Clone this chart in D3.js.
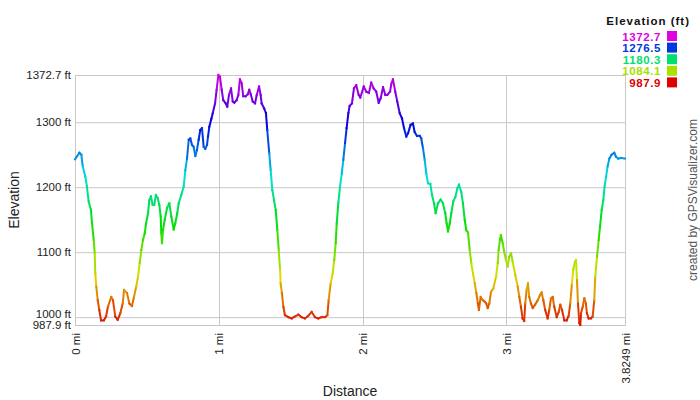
<!DOCTYPE html>
<html>
<head>
<meta charset="utf-8">
<script src="https://cdn.jsdelivr.net/npm/d3@7"></script>
<style>
  body { margin: 0; background: #fff; }
  svg { font-family: Arial, "Liberation Sans", sans-serif; }
</style>
</head>
<body>
<script>
// distance along the track (mi)
const distances = [
  0, 0.030, 0.044, 0.054, 0.072, 0.083, 0.095, 0.111, 0.118, 0.130, 0.137, 0.141, 0.148, 0.158, 0.169, 0.181,
  0.200, 0.216, 0.229, 0.252, 0.264, 0.280, 0.297, 0.315, 0.332, 0.341, 0.362, 0.378, 0.396, 0.410, 0.426, 0.438,
  0.450, 0.461, 0.473, 0.485, 0.494, 0.508, 0.517, 0.528, 0.540, 0.551, 0.563, 0.575, 0.586, 0.596, 0.600, 0.605,
  0.612, 0.624, 0.640, 0.656, 0.670, 0.686, 0.697, 0.711, 0.721, 0.739, 0.756, 0.767, 0.779, 0.791, 0.802, 0.814,
  0.825, 0.837, 0.848, 0.860, 0.871, 0.883, 0.895, 0.906, 0.918, 0.925, 0.934, 0.948, 0.958, 0.974, 0.985, 0.997,
  1.008, 1.020, 1.031, 1.048, 1.059, 1.071, 1.085, 1.097, 1.108, 1.124, 1.136, 1.147, 1.159, 1.170, 1.187, 1.201,
  1.212, 1.222, 1.236, 1.252, 1.264, 1.280, 1.291, 1.298, 1.316, 1.328, 1.337, 1.351, 1.361, 1.372, 1.384, 1.396,
  1.407, 1.417, 1.426, 1.430, 1.439, 1.449, 1.460, 1.483, 1.507, 1.530, 1.553, 1.576, 1.599, 1.622, 1.646, 1.669,
  1.692, 1.716, 1.739, 1.755, 1.764, 1.778, 1.792, 1.803, 1.813, 1.820, 1.831, 1.843, 1.855, 1.866, 1.878, 1.889,
  1.901, 1.910, 1.926, 1.940, 1.956, 1.973, 1.984, 2.008, 2.026, 2.044, 2.060, 2.077, 2.095, 2.112, 2.126, 2.142,
  2.158, 2.172, 2.191, 2.200, 2.211, 2.227, 2.241, 2.258, 2.274, 2.288, 2.304, 2.316, 2.334, 2.350, 2.362, 2.378,
  2.397, 2.408, 2.420, 2.432, 2.443, 2.455, 2.471, 2.483, 2.497, 2.508, 2.524, 2.543, 2.559, 2.575, 2.585, 2.594,
  2.606, 2.617, 2.631, 2.645, 2.659, 2.670, 2.686, 2.698, 2.710, 2.721, 2.733, 2.745, 2.756, 2.768, 2.780, 2.791,
  2.802, 2.809, 2.821, 2.837, 2.849, 2.860, 2.870, 2.881, 2.893, 2.909, 2.928, 2.940, 2.946, 2.955, 2.962, 2.974,
  2.985, 2.997, 3.009, 3.020, 3.032, 3.044, 3.062, 3.079, 3.090, 3.101, 3.113, 3.124, 3.131, 3.141, 3.150, 3.159,
  3.171, 3.183, 3.199, 3.218, 3.234, 3.245, 3.257, 3.270, 3.287, 3.298, 3.310, 3.322, 3.333, 3.350, 3.364, 3.375,
  3.387, 3.403, 3.419, 3.433, 3.444, 3.456, 3.465, 3.477, 3.484, 3.491, 3.498, 3.507, 3.514, 3.519, 3.531, 3.542,
  3.553, 3.560, 3.572, 3.588, 3.600, 3.611, 3.618, 3.630, 3.642, 3.651, 3.663, 3.674, 3.683, 3.693, 3.704, 3.716,
  3.732, 3.750, 3.762, 3.778, 3.797, 3.8249
];

// elevation (ft)
const elevations = [
  1243, 1253, 1250, 1232, 1216, 1201, 1178, 1165, 1145, 1119, 1099, 1068, 1047, 1026, 1011, 995,
  995, 1001, 1016, 1031, 1026, 1001, 996, 1006, 1021, 1042, 1037, 1021, 1017, 1031, 1047, 1062,
  1083, 1103, 1119, 1129, 1144, 1160, 1180, 1186, 1173, 1173, 1188, 1183, 1173, 1155, 1129, 1114,
  1134, 1150, 1168, 1175, 1155, 1135, 1144, 1160, 1175, 1188, 1201, 1226, 1244, 1273, 1275, 1265,
  1262, 1248, 1257, 1273, 1288, 1291, 1262, 1259, 1265, 1278, 1293, 1305, 1314, 1329, 1350, 1372.7,
  1370, 1350, 1334, 1329, 1324, 1342, 1352, 1332, 1330, 1334, 1342, 1366, 1360, 1340, 1340, 1343,
  1350, 1343, 1332, 1329, 1342, 1355, 1342, 1329, 1321, 1314, 1288, 1252, 1226, 1196, 1180, 1165,
  1134, 1103, 1073, 1052, 1037, 1016, 1003, 1000, 998, 1001, 1004, 1000, 998, 1002, 1008, 1000,
  998, 1000, 1000, 1003, 1026, 1052, 1067, 1088, 1114, 1144, 1175, 1201, 1221, 1242, 1268, 1291,
  1314, 1325, 1329, 1352, 1357, 1342, 1338, 1355, 1347, 1345, 1361, 1352, 1347, 1330, 1337, 1354,
  1342, 1342, 1347, 1359, 1366, 1347, 1332, 1314, 1306, 1291, 1278, 1283, 1296, 1298, 1285, 1279,
  1279, 1275, 1260, 1242, 1221, 1206, 1205, 1188, 1175, 1160, 1175, 1181, 1175, 1160, 1144, 1132,
  1144, 1160, 1178, 1185, 1198, 1204, 1193, 1175, 1150, 1134, 1130, 1103, 1083, 1067, 1052, 1037,
  1021, 1011, 1031, 1026, 1024, 1021, 1014, 1021, 1039, 1044, 1062, 1083, 1103, 1119, 1126, 1114,
  1101, 1088, 1078, 1093, 1098, 1085, 1065, 1047, 1031, 1016, 998, 994, 1021, 1042, 1052, 1031,
  1021, 1014, 1019, 1026, 1034, 1038, 1026, 1011, 998, 1011, 1029, 1031, 1016, 1000, 1008, 1019,
  1011, 995, 995, 1002, 1021, 1052, 1073, 1085, 1088, 1057, 1021, 991, 987.9, 1006, 1016, 1029,
  1021, 1006, 998, 998, 1001, 1026, 1062, 1093, 1119, 1139, 1165, 1180, 1201, 1216, 1232, 1244,
  1250, 1253, 1247, 1244, 1245, 1244
];

const minElevation = 987.9;
const maxElevation = 1372.7;
const totalDistance = 3.8249;

const distanceTicks = [0, 1, 2, 3, 3.8249];
const elevationTicks = [987.9, 1000, 1100, 1200, 1300, 1372.7];
const gridElevations = [1000, 1100, 1200, 1300];
const gridDistances = [1, 2, 3];
const legendValues = [1372.7, 1276.5, 1180.3, 1084.1, 987.9];

const width = 700;
const height = 400;
const plot = { left: 75, right: 625, top: 75, bottom: 325 };
const gridColor = '#c8c8c8';

const x = d3.scaleLinear().domain([0, totalDistance]).range([plot.left, plot.right]);
const y = d3.scaleLinear().domain([minElevation, maxElevation]).range([plot.bottom, plot.top]);
const hue = d3.scaleLinear().domain([minElevation, maxElevation]).range([0, 300]);
const colorFor = v => d3.hsl(hue(v), 1, 0.44).formatHex();

const svg = d3.select('body')
  .append('svg')
    .attr('width', width)
    .attr('height', height);

// grid
svg.append('g')
  .selectAll('line.h')
  .data(gridElevations)
  .join('line')
    .attr('x1', plot.left)
    .attr('x2', plot.right)
    .attr('y1', d => y(d) + 0.5)
    .attr('y2', d => y(d) + 0.5)
    .attr('stroke', gridColor);

svg.append('g')
  .selectAll('line.v')
  .data(gridDistances)
  .join('line')
    .attr('x1', d => Math.round(x(d)) + 0.5)
    .attr('x2', d => Math.round(x(d)) + 0.5)
    .attr('y1', plot.top)
    .attr('y2', plot.bottom)
    .attr('stroke', gridColor);

svg.append('rect')
  .attr('x', plot.left + 0.5)
  .attr('y', plot.top + 0.5)
  .attr('width', plot.right - plot.left)
  .attr('height', plot.bottom - plot.top)
  .attr('fill', 'none')
  .attr('stroke', gridColor);

// y axis labels
const yAxis = svg.append('g')
  .attr('transform', `translate(${plot.left},0)`)
  .call(d3.axisLeft(y)
    .tickValues(elevationTicks)
    .tickSize(0)
    .tickPadding(4)
    .tickFormat(d => d + ' ft'));
yAxis.select('.domain').remove();
yAxis.selectAll('text')
  .attr('font-size', 11.5)
  .attr('font-family', 'Arial, "Liberation Sans", sans-serif')
  .attr('fill', '#222')
  .attr('dy', d => d === 1000 ? '0' : '0.32em');

// x axis labels
const xAxis = svg.append('g')
  .attr('transform', `translate(0,${plot.bottom})`)
  .call(d3.axisBottom(x)
    .tickValues(distanceTicks)
    .tickSize(0)
    .tickFormat(d => d + ' mi'));
xAxis.select('.domain').remove();
xAxis.selectAll('text')
  .attr('font-size', 11.5)
  .attr('font-family', 'Arial, "Liberation Sans", sans-serif')
  .attr('fill', '#222')
  .attr('text-anchor', 'end')
  .attr('transform', 'rotate(-90)')
  .attr('x', -8)
  .attr('y', 0)
  .attr('dy', '0.35em');

// axis titles
svg.append('text')
  .attr('transform', `translate(19,${(plot.top + plot.bottom) / 2}) rotate(-90)`)
  .attr('text-anchor', 'middle')
  .attr('font-size', 14)
  .attr('fill', '#222')
  .text('Elevation');

svg.append('text')
  .attr('x', (plot.left + plot.right) / 2)
  .attr('y', 396)
  .attr('text-anchor', 'middle')
  .attr('font-size', 14)
  .attr('fill', '#222')
  .text('Distance');

// elevation profile, coloured by height
const points = distances.map((d, i) => ({ d, e: elevations[i] }));
const segments = d3.pairs(points);
const segLine = d3.line().x(p => x(p.d)).y(p => y(p.e));

svg.append('g')
  .selectAll('path')
  .data(segments)
  .join('path')
    .attr('d', s => segLine(s))
    .attr('fill', 'none')
    .attr('stroke', s => colorFor((s[0].e + s[1].e) / 2))
    .attr('stroke-width', 2)
    .attr('stroke-linecap', 'square');

// legend
const legend = svg.append('g');
legend.append('text')
  .attr('x', 690)
  .attr('y', 25)
  .attr('text-anchor', 'end')
  .attr('font-size', 11.5)
  .attr('font-weight', 'bold')
  .attr('letter-spacing', 1)
  .attr('fill', '#111')
  .text('Elevation (ft)');

const legendRow = legend.selectAll('g.row')
  .data(legendValues)
  .join('g')
    .attr('transform', (d, i) => `translate(0,${31 + i * 11.6})`);

legendRow.append('rect')
  .attr('x', 667)
  .attr('y', 0)
  .attr('width', 10)
  .attr('height', 10)
  .attr('fill', d => colorFor(d));

legendRow.append('text')
  .attr('x', 661)
  .attr('y', 9.5)
  .attr('text-anchor', 'end')
  .attr('font-size', 11.5)
  .attr('font-weight', 'bold')
  .attr('letter-spacing', 0.6)
  .attr('fill', d => colorFor(d))
  .text(d => d);

// credit
svg.append('text')
  .attr('transform', `translate(697,${(plot.top + plot.bottom) / 2}) rotate(-90)`)
  .attr('text-anchor', 'middle')
  .attr('font-size', 12)
  .attr('fill', '#555')
  .text('created by GPSVisualizer.com');
</script>
</body>
</html>
